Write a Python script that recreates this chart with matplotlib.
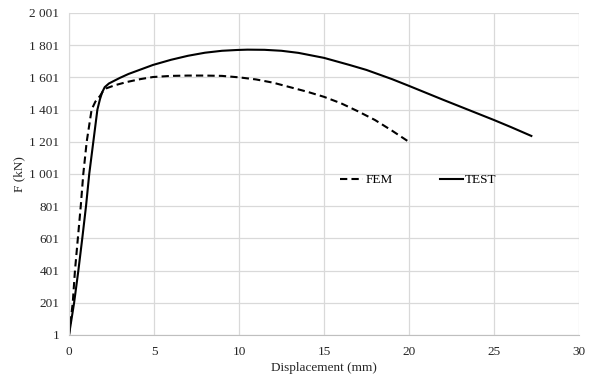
import matplotlib
matplotlib.use('Agg')
import matplotlib.pyplot as plt
from matplotlib.ticker import FuncFormatter

# кривые сила-перемещение: расчет (FEM) и эксперимент (TEST)
fem_x = [0, 0.22, 0.35, 0.52, 0.69, 0.84, 1.04, 1.33, 1.55, 1.82, 2.0, 2.2, 2.7, 3.4, 4.2, 4.94, 6, 7, 8, 9, 10, 11, 12, 13, 14, 15, 16, 17, 18, 19, 20]
fem_y = [1, 201, 401, 601, 801, 1001, 1201, 1401, 1450, 1485, 1515, 1533, 1552, 1572, 1590, 1603, 1610, 1612, 1612, 1610, 1601, 1588, 1568, 1540, 1512, 1480, 1440, 1390, 1336, 1270, 1200]

test_x = [0, 0.3, 0.55, 0.78, 1.0, 1.19, 1.43, 1.67, 1.82, 1.95, 2.1, 2.35, 2.7, 3.0, 3.5, 4.94, 6, 7, 8, 9, 9.9, 10.5, 11.5, 12.5, 13.5, 15, 16.5, 17.5, 19, 20, 22, 24, 25, 26, 27.2]
test_y = [1, 201, 401, 601, 801, 1001, 1201, 1401, 1465, 1508, 1540, 1563, 1582, 1598, 1622, 1678, 1710, 1735, 1754, 1766, 1771, 1773, 1772, 1766, 1753, 1722, 1678, 1647, 1590, 1548, 1462, 1378, 1336, 1292, 1237]

y_ticks = [1, 201, 401, 601, 801, 1001, 1201, 1401, 1601, 1801, 2001]
x_ticks = [0, 5, 10, 15, 20, 25, 30]

plt.rcParams['font.family'] = ['Liberation Serif', 'DejaVu Serif']

fig = plt.figure(figsize=(5.95, 3.81), dpi=100)
ax = fig.add_axes([0.116, 0.121, 0.857, 0.845])

ax.plot(fem_x, fem_y, color='black', linestyle=(0, (3.5, 2)), linewidth=1.5, label='FEM')
ax.plot(test_x, test_y, color='black', linestyle='-', linewidth=1.5, label='TEST')

ax.set_xlim(0, 30)
ax.set_ylim(1, 2001)
ax.set_xticks(x_ticks)
ax.set_yticks(y_ticks)
# пробел как разделитель тысяч
ax.yaxis.set_major_formatter(FuncFormatter(lambda v, p: f'{int(v):,}'.replace(',', ' ')))

ax.grid(True, color='#d9d9d9', linewidth=0.9)
ax.set_axisbelow(True)
for s in ['top', 'right']:
    ax.spines[s].set_visible(False)
ax.spines['left'].set_color('#d9d9d9')
ax.spines['bottom'].set_color('#bfbfbf')
ax.tick_params(length=0, labelsize=9.5, colors='#262626')
ax.tick_params(axis='x', pad=8)
ax.tick_params(axis='y', pad=7)

ax.set_xlabel('Displacement (mm)', fontsize=9.5, color='#262626', labelpad=3)
ax.set_ylabel('F (kN)', fontsize=9.5, color='#262626', labelpad=3)

ax.legend(loc='center', bbox_to_anchor=(0.685, 0.48), ncol=2, frameon=False,
          fontsize=9.5, handlelength=1.75, handletextpad=0.15, columnspacing=3.6)

fig.savefig('out.png', dpi=100)
